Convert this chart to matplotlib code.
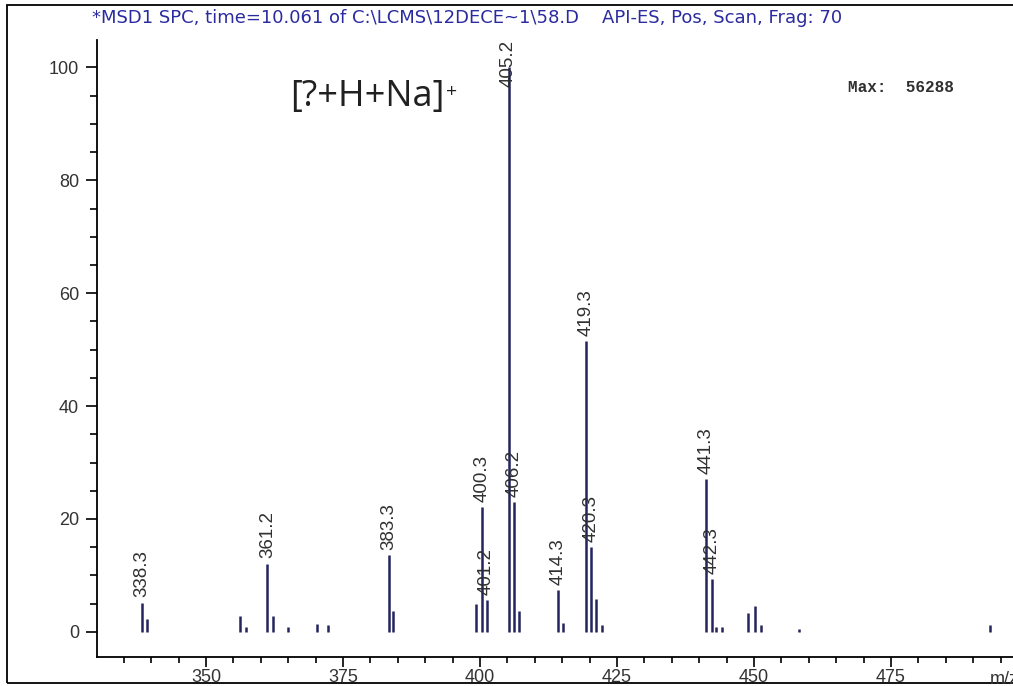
import matplotlib
matplotlib.use("Agg")
import matplotlib.pyplot as plt
from matplotlib.patches import Rectangle
from matplotlib.ticker import MultipleLocator

# Mass spectrum: m/z values and relative abundance (%)
mz = [338.3, 339.3, 356.2, 357.3, 361.2, 362.2, 365.0, 370.2, 372.3,
      383.3, 384.2, 399.3, 400.3, 401.2, 405.2, 406.2, 407.2, 414.3,
      415.2, 419.3, 420.3, 421.2, 422.3, 441.3, 442.3, 443.1, 444.2,
      449.0, 450.2, 451.3, 458.2, 493.1]
abundance = [5.2, 2.2, 2.8, 0.8, 12.1, 2.8, 0.9, 1.4, 1.2,
             13.6, 3.7, 5.0, 22.1, 5.7, 100.0, 23.0, 3.7, 7.4,
             1.6, 51.6, 15.0, 5.9, 1.2, 27.0, 9.3, 0.8, 0.9,
             3.3, 4.6, 1.2, 0.5, 1.3]
labeled = ["338.3", "361.2", "383.3", "400.3", "401.2", "405.2", "406.2",
           "414.3", "419.3", "420.3", "441.3", "442.3"]
x_ticks = [350, 375, 400, 425, 450, 475]
y_ticks = [0, 20, 40, 60, 80, 100]

title = ("*MSD1 SPC, time=10.061 of C:\\LCMS\\12DECE~1\\58.D    "
         "API-ES, Pos, Scan, Frag: 70")
ion_note = "[?+H+Na]"
max_note = "Max:  56288"

W, H = 1013, 686
fig = plt.figure(figsize=(W / 100, H / 100), dpi=100)
fig.patch.set_facecolor("white")

# outer frame
fig.patches.append(Rectangle((7 / W, 1 - 683 / H), 1.2, (683 - 5) / H,
                             transform=fig.transFigure, fill=False,
                             edgecolor="black", linewidth=1.3))

ax_left, ax_right, ax_top, ax_bottom = 97, 1040, 40, 657
ax = fig.add_axes([ax_left / W, 1 - ax_bottom / H,
                   (ax_right - ax_left) / W, (ax_bottom - ax_top) / H])
ax.set_facecolor("none")

ymin, ymax = -4.45, 104.85
ax.set_xlim(330.1, 502.2)
ax.set_ylim(ymin, ymax)

bar_color = "#24245e"
ax.vlines(mz, 0, abundance, color=bar_color, linewidth=1.8)

# peak labels sit just above their line; a label that would run past the
# top of the plot is pushed down so that it ends at the top edge
label_size = 13.5
label_len = 8.3          # rotated label length in data units
for m, a in zip(mz, abundance):
    lab = f"{m:.1f}"
    if lab in labeled:
        y = min(a + 0.9, ymax - label_len)
        ax.text(m, y, lab, rotation=90, ha="center", va="bottom",
                fontsize=label_size, family="Liberation Sans",
                color="#303030", clip_on=True)

for s in ["top", "right"]:
    ax.spines[s].set_visible(False)
for s in ["left", "bottom"]:
    ax.spines[s].set_linewidth(1.3)
    ax.spines[s].set_color("black")

ax.set_xticks(x_ticks)
ax.xaxis.set_minor_locator(MultipleLocator(5))
ax.set_yticks(y_ticks)
ax.yaxis.set_minor_locator(MultipleLocator(5))
ax.tick_params(axis="both", which="major", direction="out", width=1.2,
               color="black", labelsize=13, labelcolor="#333333")
ax.tick_params(axis="x", which="major", length=7, pad=2)
ax.tick_params(axis="x", which="minor", length=4, width=1.2)
ax.tick_params(axis="y", which="major", length=8, pad=5)
ax.tick_params(axis="y", which="minor", length=5, width=1.2)
for t in ax.get_xticklabels() + ax.get_yticklabels():
    t.set_family("Liberation Sans")

fig.text(990 / W, 1 - 679 / H, "m/z", fontsize=13, family="Liberation Sans",
         color="#333333", ha="left", va="center")

fig.text(92 / W, 1 - 18 / H, title, fontsize=13, family="DejaVu Sans",
         color="#2b2ba0", ha="left", va="center")

note = ax.text(290 / W, 1 - 97 / H, ion_note, transform=fig.transFigure,
               fontsize=26, family="Open Sans", color="#202020",
               ha="left", va="center")
ax.annotate("+", xy=(1, 0.9), xycoords=note, xytext=(1, 0),
            textcoords="offset points", fontsize=14, family="Open Sans",
            color="#202020", ha="left", va="top")

fig.text(848 / W, 1 - 87 / H, max_note, fontsize=11.5,
         family="Liberation Mono", weight="bold", color="#303030",
         ha="left", va="center")

fig.savefig("out.png", dpi=100)
